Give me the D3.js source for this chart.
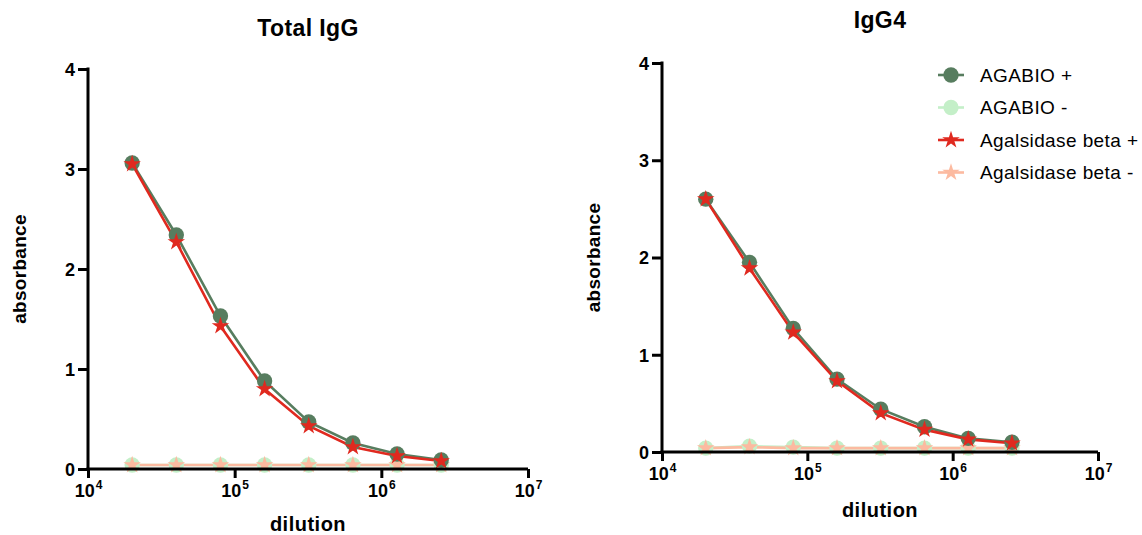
<!DOCTYPE html>
<html>
<head>
<meta charset="utf-8">
<script src="https://cdn.jsdelivr.net/npm/d3@7"></script>
<style>
  body { margin: 0; background: #fff; }
  svg { font-family: "Liberation Sans", Arial, sans-serif; }
  .axis path, .axis line { stroke: #000; stroke-width: 3px; }
  .axis text { font-weight: bold; font-size: 18px; fill: #000; }
</style>
</head>
<body>
<div id="chart"></div>
<script>
// dilution steps (x values)
const dilutions = [2e4, 4e4, 8e4, 1.6e5, 3.2e5, 6.4e5, 1.28e6, 2.56e6];
const xTicks = [1e4, 1e5, 1e6, 1e7];
const yTicks = [0, 1, 2, 3, 4];

// Total IgG absorbance
const totalAgabioPos = [3.06, 2.34, 1.53, 0.88, 0.47, 0.26, 0.15, 0.09];
const totalAgabioNeg = [0.04, 0.04, 0.04, 0.04, 0.04, 0.04, 0.04, 0.04];
const totalAgalPos = [3.05, 2.27, 1.43, 0.80, 0.43, 0.22, 0.13, 0.08];
const totalAgalNeg = [0.04, 0.04, 0.04, 0.04, 0.04, 0.04, 0.04, 0.04];

// IgG4 absorbance
const igg4AgabioPos = [2.60, 1.95, 1.27, 0.75, 0.44, 0.26, 0.14, 0.10];
const igg4AgabioNeg = [0.04, 0.06, 0.05, 0.04, 0.04, 0.04, 0.04, 0.04];
const igg4AgalPos = [2.60, 1.89, 1.23, 0.73, 0.40, 0.23, 0.13, 0.09];
const igg4AgalNeg = [0.04, 0.05, 0.04, 0.04, 0.04, 0.04, 0.04, 0.04];

const seriesNames = ['AGABIO +', 'AGABIO -', 'Agalsidase beta +', 'Agalsidase beta -'];
const colors = ['#577d5f', '#c4efc8', '#e0291f', '#fcbaa0'];
const shapes = ['circle', 'circle', 'star', 'star'];

const panels = [
  { title: 'Total IgG', series: [totalAgabioPos, totalAgabioNeg, totalAgalPos, totalAgalNeg],
    x0: 88, x1: 528, y0: 469, y1: 69, titleY: 36, tickLabelY: 28, xLabelY: 531 },
  { title: 'IgG4', series: [igg4AgabioPos, igg4AgabioNeg, igg4AgalPos, igg4AgalNeg],
    x0: 662, x1: 1098, y0: 452, y1: 63, titleY: 28, tickLabelY: 28, xLabelY: 517 }
];

const width = 1142, height = 535;
const svg = d3.select('#chart').append('svg')
  .attr('width', width)
  .attr('height', height);

const star = d3.symbol().type(d3.symbolStar).size(95);
const circle = d3.symbol().type(d3.symbolCircle).size(185);

function drawMarker(sel, shape, color) {
  sel.append('path')
    .attr('d', shape === 'star' ? star() : circle())
    .style('fill', color);
}

function supTick(sel) {
  sel.each(function (d) {
    const t = d3.select(this);
    const exp = Math.round(Math.log10(d));
    t.text(null);
    t.append('tspan').text('10');
    t.append('tspan').attr('dx', 1).attr('dy', -8).style('font-size', '12px').text(exp);
  });
}

panels.forEach(p => {
  const x = d3.scaleLog().domain([1e4, 1e7]).range([p.x0, p.x1]);
  const y = d3.scaleLinear().domain([0, 4]).range([p.y0, p.y1]);
  const g = svg.append('g');

  // data lines and markers (positive series drawn last)
  [1, 3, 0, 2].forEach(i => {
    const vals = p.series[i];
    const pts = dilutions.map((d, j) => [d, vals[j]]);
    g.append('path')
      .datum(pts)
      .attr('d', d3.line().x(d => x(d[0])).y(d => y(d[1])))
      .style('fill', 'none')
      .style('stroke', colors[i])
      .style('stroke-width', 2.6);
  });
  [1, 3, 0, 2].forEach(i => {
    const vals = p.series[i];
    dilutions.forEach((d, j) => {
      const m = g.append('g').attr('transform', `translate(${x(d)},${y(vals[j])})`);
      drawMarker(m, shapes[i], colors[i]);
    });
  });

  // axes
  const xAxis = g.append('g')
    .attr('class', 'axis')
    .attr('transform', `translate(0,${p.y0})`)
    .call(d3.axisBottom(x).tickValues(xTicks).tickSize(9).tickSizeOuter(0));
  xAxis.selectAll('text').attr('dy', 0).attr('y', p.tickLabelY).call(supTick);
  xAxis.select('.domain').attr('d', `M${p.x0 - 1.5},0H${p.x1}`);

  const yAxis = g.append('g')
    .attr('class', 'axis')
    .attr('transform', `translate(${p.x0},0)`)
    .call(d3.axisLeft(y).tickValues(yTicks).tickSize(10).tickSizeOuter(0).tickFormat(d3.format('d')));
  yAxis.selectAll('text').attr('x', -13).attr('dy', '0.36em');
  yAxis.select('.domain').attr('d', `M0,${p.y0 + 1.5}V${p.y1 - 1.5}`);

  // titles
  svg.append('text')
    .attr('x', (p.x0 + p.x1) / 2)
    .attr('y', p.titleY)
    .attr('text-anchor', 'middle')
    .style('font-weight', 'bold')
    .style('font-size', '23px')
    .style('letter-spacing', '0.4px')
    .text(p.title);

  svg.append('text')
    .attr('x', (p.x0 + p.x1) / 2)
    .attr('y', p.xLabelY)
    .attr('text-anchor', 'middle')
    .style('font-weight', 'bold')
    .style('font-size', '20px')
    .style('letter-spacing', '0.5px')
    .text('dilution');

  svg.append('text')
    .attr('transform', `translate(${p.x0 - 62},${(p.y0 + p.y1) / 2}) rotate(-90)`)
    .attr('text-anchor', 'middle')
    .style('font-weight', 'bold')
    .style('font-size', '19px')
    .style('letter-spacing', '0.3px')
    .text('absorbance');
});

// legend
const legend = svg.append('g').attr('transform', 'translate(938,75)');
seriesNames.forEach((name, i) => {
  const row = legend.append('g').attr('transform', `translate(0,${i * 32.5})`);
  row.append('line')
    .attr('x1', 0).attr('x2', 26)
    .style('stroke', colors[i])
    .style('stroke-width', 2.6);
  const m = row.append('g').attr('transform', 'translate(13,0)');
  drawMarker(m, shapes[i], colors[i]);
  row.append('text')
    .attr('x', 42)
    .attr('dy', '0.35em')
    .style('font-size', '19px')
    .style('letter-spacing', '0.4px')
    .text(name);
});
</script>
</body>
</html>
